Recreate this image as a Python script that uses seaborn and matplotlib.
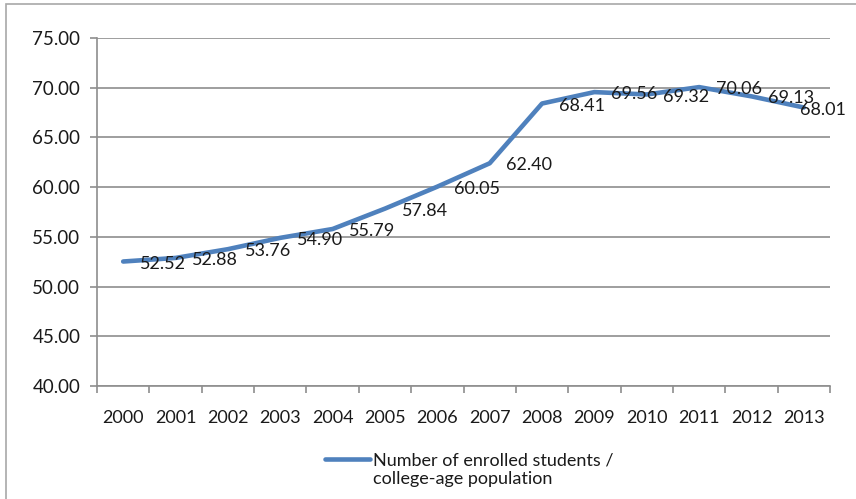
import matplotlib
matplotlib.use("Agg")
import matplotlib.pyplot as plt
from matplotlib.patches import Rectangle
import numpy as np
import pandas as pd
import seaborn as sns

years = ["2000", "2001", "2002", "2003", "2004", "2005", "2006",
         "2007", "2008", "2009", "2010", "2011", "2012", "2013"]
ratio = [52.52, 52.88, 53.76, 54.90, 55.79, 57.84, 60.05,
         62.40, 68.41, 69.56, 69.32, 70.06, 69.13, 68.01]
y_ticks = [40, 45, 50, 55, 60, 65, 70, 75]
legend_lines = ["Number of enrolled students /", "college-age population"]

df = pd.DataFrame({"pos": np.arange(len(years)), "ratio": ratio})

sns.set_theme(style="white")
plt.rcParams["font.family"] = ["Lato", "DejaVu Sans"]

line_color = "#4F81BD"
grid_color = "#8E8E8E"
text_color = "#1A1A1A"
W, H = 856, 499

fig = plt.figure(figsize=(W / 100, H / 100), dpi=100)
ax = fig.add_axes([97 / W, 1 - 386 / H, (830 - 97) / W, (386 - 38) / H])

sns.lineplot(data=df, x="pos", y="ratio", ax=ax, color=line_color,
             linewidth=3.3, label=legend_lines[0], legend=False)

# value labels to the right of each point; the last one is pulled back inside
for i, (x, v) in enumerate(zip(df["pos"], df["ratio"])):
    dx = -3 if i == len(years) - 1 else 12
    ax.annotate(f"{v:.2f}", (x, v), xytext=(dx, -1.5), textcoords="offset points",
                ha="left", va="center", fontsize=13, color=text_color)

ax.set_xlim(-0.5, len(years) - 0.5)
ax.set_ylim(40, 75)
ax.set_yticks(y_ticks)
ax.set_yticklabels([f"{t:.2f}" for t in y_ticks])
ax.yaxis.grid(True, color=grid_color, linewidth=1.2)
ax.set_axisbelow(True)

# tick marks between categories, labels at category centres
ax.set_xticks(np.arange(len(years) + 1) - 0.5)
ax.set_xticklabels([])
ax.set_xticks(np.arange(len(years)), minor=True)
ax.set_xticklabels(years, minor=True)
ax.tick_params(axis="x", which="major", length=5, width=1.2, color=grid_color, direction="out")
ax.tick_params(axis="x", which="minor", length=0, pad=17, labelsize=13, labelcolor=text_color)
ax.tick_params(axis="y", length=5, width=1.2, color=grid_color, direction="out",
               pad=7, labelsize=13.5, labelcolor=text_color)
ax.tick_params(bottom=True, left=True)

for side in ("top", "right"):
    ax.spines[side].set_visible(False)
for side in ("left", "bottom"):
    ax.spines[side].set_color(grid_color)
    ax.spines[side].set_linewidth(1.2)

ax.set_xlabel("")
ax.set_ylabel("")

# chart frame
fig.add_artist(Rectangle((6 / W, -0.05), 1.2, 1 - 4 / H + 0.05,
                         transform=fig.transFigure, fill=False,
                         edgecolor="#A8A8A8", linewidth=1.2))

# legend: key aligned with the first line, second line set beneath it
handles, labels = ax.get_legend_handles_labels()
fs = 13
fig.legend(handles, labels, loc="center left", bbox_to_anchor=(325 / W, 1 - 460 / H),
           frameon=False, fontsize=fs, handlelength=45 / (fs * 1.389),
           handletextpad=3 / (fs * 1.389), borderpad=0, borderaxespad=0,
           labelcolor=text_color)
fig.text(373 / W, 1 - 479 / H, legend_lines[1], ha="left", va="center",
         fontsize=fs, color=text_color)

fig.savefig("out.png", dpi=100)
